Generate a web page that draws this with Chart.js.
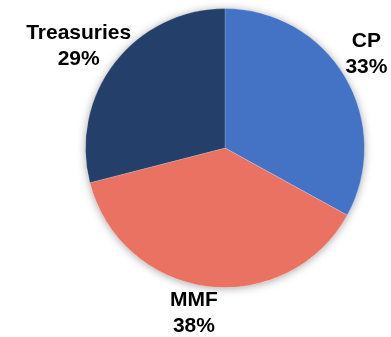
<!DOCTYPE html>
<html>
<head>
<meta charset="utf-8">
<script src="https://cdn.jsdelivr.net/npm/chart.js@4"></script>
<style>
  body { margin: 0; background: #fff; }
</style>
</head>
<body>
<canvas id="fundingChart" width="391" height="337"></canvas>
<script>
    // Funding mix
    const labels = ['CP', 'MMF', 'Treasuries'];
    const shares = [33, 38, 29];
    const colors = ['#4472C4', '#EA7262', '#243F69'];

    // soft shadow under the whole pie
    const pieShadow = {
        id: 'pieShadow',
        beforeDatasetsDraw(chart) {
            const arc = chart.getDatasetMeta(0).data[0];
            if (!arc) return;
            const ctx = chart.ctx;
            ctx.save();
            ctx.shadowColor = 'rgba(0, 0, 0, 0.35)';
            ctx.shadowBlur = 9;
            ctx.shadowOffsetX = 0;
            ctx.shadowOffsetY = 1;
            ctx.fillStyle = '#ffffff';
            ctx.beginPath();
            ctx.arc(arc.x, arc.y, arc.outerRadius, 0, Math.PI * 2);
            ctx.fill();
            ctx.restore();
        }
    };

    // category + percent labels outside each slice
    const outsideLabels = {
        id: 'outsideLabels',
        afterDatasetsDraw(chart, args, opts) {
            const ctx = chart.ctx;
            const meta = chart.getDatasetMeta(0);
            ctx.save();
            ctx.font = 'bold 21px "Liberation Sans", Arial, sans-serif';
            ctx.fillStyle = '#000';
            ctx.textAlign = 'center';
            ctx.textBaseline = 'middle';
            meta.data.forEach((arc, i) => {
                const mid = (arc.startAngle + arc.endAngle) / 2 + opts.turn[i];
                const r = arc.outerRadius + opts.gap[i];
                const x = arc.x + Math.cos(mid) * r;
                const y = arc.y + Math.sin(mid) * r;
                ctx.fillText(labels[i], x, y - 13);
                ctx.fillText(shares[i] + '%', x, y + 13);
            });
            ctx.restore();
        }
    };

    const ctx1 = document.getElementById('fundingChart').getContext('2d');
    new Chart(ctx1, {
        type: 'pie',
        data: {
            labels: labels,
            datasets: [{
                data: shares,
                backgroundColor: colors,
                borderColor: 'rgba(255, 255, 255, 0.18)',
                borderWidth: 1
            }]
        },
        options: {
            responsive: false,
            animation: false,
            layout: {
                padding: { left: 85, right: 26, top: 8, bottom: 49 }
            },
            plugins: {
                legend: { display: false },
                tooltip: { enabled: false },
                outsideLabels: {
                    gap: [30, 29, 39],
                    turn: [-0.05, 0.06, -0.05]
                }
            }
        },
        plugins: [pieShadow, outsideLabels]
    });
</script>
</body>
</html>
